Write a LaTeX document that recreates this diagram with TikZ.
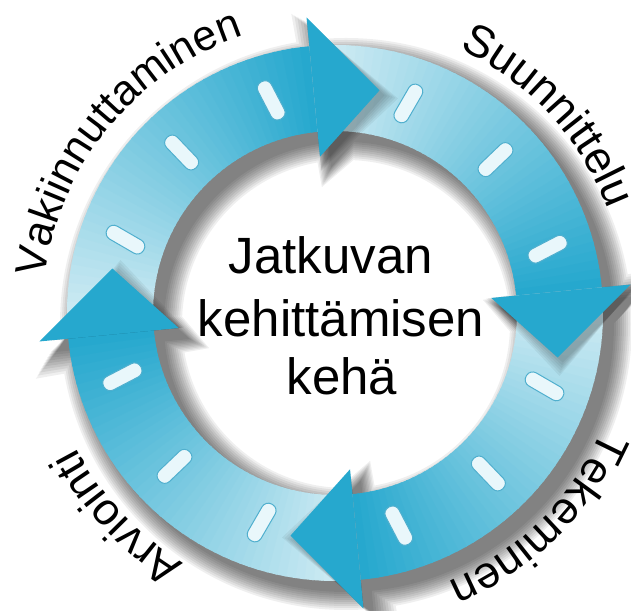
\documentclass[tikz,border=0pt]{standalone}
\usepackage{fontspec}
\setmainfont{Liberation Sans}
\usetikzlibrary{decorations.text}
\definecolor{ltb}{RGB}{214,238,245}
\definecolor{dkb}{RGB}{38,168,206}
\definecolor{tickfill}{RGB}{233,247,251}
\definecolor{tickline}{RGB}{80,175,206}
\newcommand\labfont{\fontsize{45}{54}\selectfont}
\newcommand\labfontb{\fontsize{43}{52}\selectfont}
\newcommand\ctrfont{\fontsize{51}{60}\selectfont}
\tikzset{
  lbl/.style={decorate, decoration={text along path, text align=center, text={|\labfont|#1}}},
  lblb/.style={decorate, decoration={text along path, text align=center, text={|\labfontb|#1}}},
  tickbox/.style={fill=tickfill, draw=tickline, line width=1pt, rounded corners=7pt, minimum width=42pt, minimum height=15pt, inner sep=0pt, outer sep=0pt},
  ctr/.style={anchor=base, font=\ctrfont, inner sep=0pt, text=black},
  shad/.style={fill=black, opacity=#1},
}
\def\Ri{182}\def\Ro{268}\def\Hi{157}\def\Ho{297}\def\Tr{227}\def\Tk{222}
\begin{document}
\begin{tikzpicture}[x=1pt,y=1pt]
\fill[white] (0,0) rectangle (631,610);
\useasboundingbox (0,0) rectangle (631,610);
\begin{scope}[shift={(335,297)}]
  % global soft shadow
  \begin{scope}[shift={(11,-11)}]
  \foreach \dd in {0,2,...,18}{
    \pgfmathsetmacro{\ro}{\Ro+\dd}
    \pgfmathsetmacro{\ri}{\Ri-\dd}
    \fill[shad=0.062, nonzero rule]
      (\ro,0) arc[start angle=0, end angle=360, radius=\ro] -- cycle
      (\ri,0) arc[start angle=0, end angle=-360, radius=\ri] -- cycle
      foreach \k in {0,1,2,3}{
        ({95.5-90*\k+0.25*\dd}:{\Hi-\dd}) -- ({78.7-90*\k-0.35*\dd}:\Tr) -- ({95.5-90*\k+0.25*\dd}:{\Ho+\dd}) -- cycle
      };
  }
  \end{scope}
  % shafts with gradient
  \foreach \k in {0,1,2,3}{
    \pgfmathsetmacro{\st}{185.5-90*\k}
    \foreach \i in {0,...,44}{
      \pgfmathsetmacro{\aa}{\st-2*\i}
      \pgfmathsetmacro{\ab}{\aa-2.5}
      \pgfmathsetmacro{\pc}{100*\i/44}
      \fill[dkb!\pc!ltb] (\aa:\Ri) arc[start angle=\aa, end angle=\ab, radius=\Ri] -- (\ab:\Ro) arc[start angle=\ab, end angle=\aa, radius=\Ro] -- cycle;
    }
  }
  % head shadows on next tail
  \foreach \k in {0,1,2,3}{
    \pgfmathsetmacro{\hba}{95.5-90*\k}
    \pgfmathsetmacro{\hbb}{\hba-45}
    \begin{scope}
      \clip (0,0) -- (\hba:400) arc[start angle=\hba, end angle=\hbb, radius=400] -- cycle;
      \foreach \dd in {0,2,...,10}{
        \fill[shad=0.05, shift={(5,-5)}] ({\hba+0.25*\dd}:{\Hi-\dd}) -- ({\hba-16.8-0.35*\dd}:\Tr) -- ({\hba+0.25*\dd}:{\Ho+\dd}) -- cycle;
      }
    \end{scope}
  }
  % heads
  \foreach \k in {0,1,2,3}{
    \fill[dkb] ({95.5-90*\k}:\Hi) -- ({78.7-90*\k}:\Tr) -- ({95.5-90*\k}:\Ho) -- cycle;
  }
  % ticks
  \foreach \k in {0,1,2,3}{
    \foreach \j/\off in {1/28,2/55,3/82}{
      \pgfmathsetmacro{\tka}{78.7-90*\k+\off}
      \pgfmathsetmacro{\tko}{78.7-90*\k+55+0.6*(\off-55)}
      \node[tickbox, rotate=\tko] (tk\k\j) at (\tka:\Tk) {};
    }
  }
  % labels
  \path[lblb=Vakiinnuttaminen] (210.6:292) arc[start angle=210.6, end angle=70.6, radius=292];
  \path[lbl=Suunnittelu] (112.8:292) arc[start angle=112.8, end angle=-27.2, radius=292];
  \path[lbl=Tekeminen] (24.6:292) arc[start angle=24.6, end angle=-115.4, radius=292];
  \path[lbl=Arviointi] (-66.8:292) arc[start angle=-66.8, end angle=-206.8, radius=292];
\end{scope}
\node[ctr] (c1) at (331,336.7) {Jatkuvan};
\node[ctr] (c2) at (341,273.3) {kehittämisen};
\node[ctr] (c3) at (342,215) {kehä};
\end{tikzpicture}
\end{document}
